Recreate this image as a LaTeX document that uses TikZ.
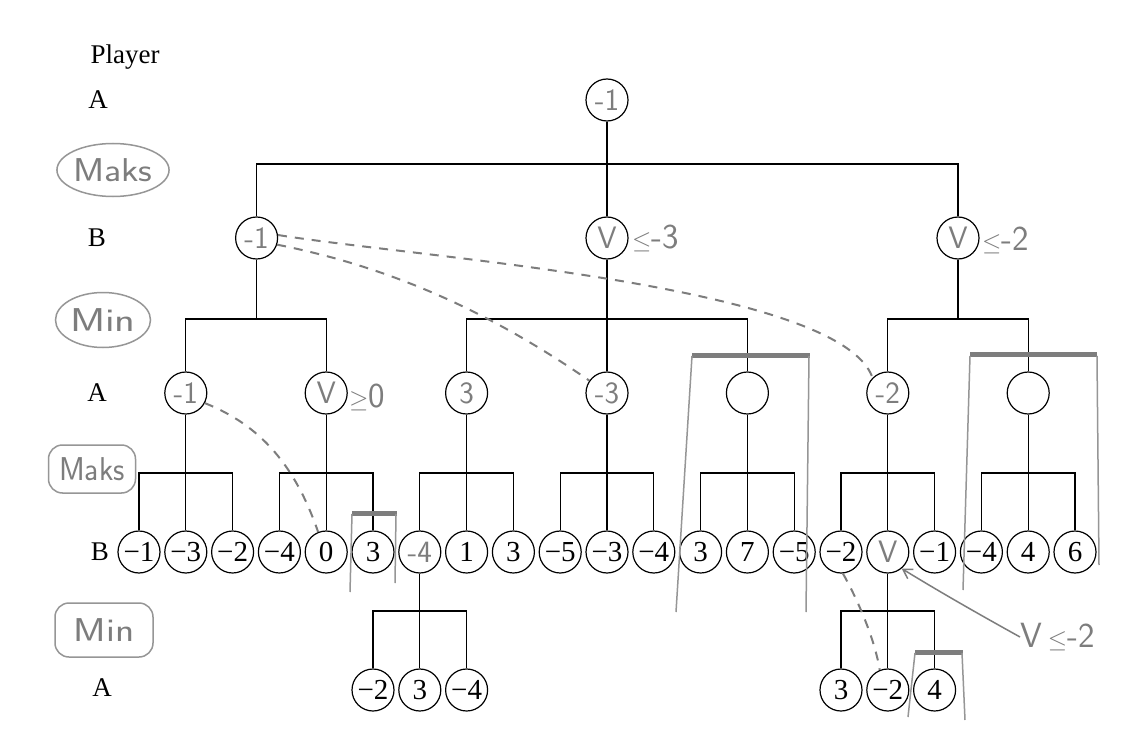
\documentclass[tikz,border=0pt]{standalone}
\usepackage{fontspec}
\setmainfont{Liberation Serif}
\usetikzlibrary{arrows.meta,calc,shapes.geometric}
\definecolor{pencil}{RGB}{125,125,125}
\definecolor{pencilsoft}{RGB}{150,150,150}
\newcommand\numfont{\fontsize{29}{29}\selectfont}
\newcommand\handfont{\sffamily\fontsize{31}{31}\selectfont}
\tikzset{
  state/.style={circle,draw=black,line width=1.2pt,minimum size=42pt,inner sep=0pt,font=\numfont,fill=white},
  handval/.style={text=pencil,font=\handfont},
  edge/.style={draw=black,line width=1.2pt},
  rowlabel/.style={font=\fontsize{27}{27}\selectfont,inner sep=0pt},
  handnote/.style={text=pencil,font=\sffamily\fontsize{35}{35}\selectfont,inner sep=0pt,anchor=west},
  trail/.style={draw=pencil,line width=2pt,dash pattern=on 9pt off 8pt},
  cutbar/.style={draw=pencil,line width=5pt},
  cutside/.style={draw=pencilsoft,line width=1.5pt},
  tag/.style={draw=pencilsoft,line width=1.5pt,text=pencil,inner sep=0pt,font=\sffamily\fontsize{33}{33}\selectfont},
}
\begin{document}
\begin{tikzpicture}[x=1pt,y=-1pt]
\fill[white] (0,0) rectangle (1125,749);
\useasboundingbox (0,0) rectangle (1125,749);

% player column
\node[rowlabel] (plr) at (125,57) {Player};
\node[rowlabel] (pa1) at (98,100) {A};
\node[tag,ellipse,minimum width=107pt,minimum height=53pt] (mx1) at (113,170) {\scalebox{1.15}[1]{Maks}};
\node[rowlabel] (pb1) at (97,238) {B};
\node[tag,ellipse,minimum width=95pt,minimum height=55pt] (mn1) at (103,320) {\scalebox{1.3}[1]{Min}};
\node[rowlabel] (pa2) at (97,393) {A};
\node[tag,rectangle,rounded corners=14pt,minimum width=87pt,minimum height=48pt] (mx2) at (92,469) {\scalebox{0.95}[1]{Maks}};
\node[rowlabel] (pb2) at (100,552) {B};
\node[tag,rectangle,rounded corners=14pt,minimum width=98pt,minimum height=54pt] (mn2) at (104,630) {\scalebox{1.2}[1]{Min}};
\node[rowlabel] (pa3) at (102,688) {A};

% root and first reply level
\node[state,handval] (root) at (607,100) {-1};
\node[state,handval] (bl) at (256.6,238) {-1};
\node[state,handval] (bm) at (607,238) {V};
\node[state,handval] (br) at (958,238) {V};

% second level
\node[state,handval] (a1) at (185.8,393) {-1};
\node[state,handval] (a2) at (326.2,393) {V};
\node[state,handval] (a3) at (466.6,393) {3};
\node[state,handval] (a4) at (607,393) {-3};
\node[state] (a5) at (747.4,393) {};
\node[state,handval] (a6) at (887.8,393) {-2};
\node[state] (a7) at (1028.2,393) {};

% third level
\node[state] (l0) at (139,552) {−1};
\node[state] (l1) at (185.8,552) {−3};
\node[state] (l2) at (232.6,552) {−2};
\node[state] (l3) at (279.4,552) {−4};
\node[state] (l4) at (326.2,552) {0};
\node[state] (l5) at (373,552) {3};
\node[state,handval] (l6) at (419.8,552) {-4};
\node[state] (l7) at (466.6,552) {1};
\node[state] (l8) at (513.4,552) {3};
\node[state] (l9) at (560.2,552) {−5};
\node[state] (l10) at (607,552) {−3};
\node[state] (l11) at (653.8,552) {−4};
\node[state] (l12) at (700.6,552) {3};
\node[state] (l13) at (747.4,552) {7};
\node[state] (l14) at (794.2,552) {−5};
\node[state] (l15) at (841,552) {−2};
\node[state,handval] (l16) at (887.8,552) {V};
\node[state] (l17) at (934.6,552) {−1};
\node[state] (l18) at (981.4,552) {−4};
\node[state] (l19) at (1028.2,552) {4};
\node[state] (l20) at (1075,552) {6};

% fourth level
\node[state] (m0) at (373,690) {−2};
\node[state] (m1) at (419.8,690) {3};
\node[state] (m2) at (466.6,690) {−4};
\node[state] (m3) at (841,690) {3};
\node[state] (m4) at (887.8,690) {−2};
\node[state] (m5) at (934.6,690) {4};

% tree edges
\draw[edge] (root) -- (bm);
\draw[edge] (bl) |- ($(root)+(0,64)$) -| (br);
\draw[edge] (bl) -- ($(bl)+(0,81)$);
\draw[edge] (a1) |- ($(bl)+(0,81)$) -| (a2);
\draw[edge] (bm) -- (a4);
\draw[edge] (a3) |- ($(bm)+(0,81)$) -| (a5);
\draw[edge] (br) -- ($(br)+(0,81)$);
\draw[edge] (a6) |- ($(br)+(0,81)$) -| (a7);
\foreach \k/\l/\m/\r in {1/0/1/2,2/3/4/5,3/6/7/8,4/9/10/11,5/12/13/14,6/15/16/17,7/18/19/20}{
  \draw[edge] (a\k) -- (l\m);
  \draw[edge] (l\l) |- ($(a\k)+(0,80)$) -| (l\r);
}
\draw[edge] (l6) -- (m1);
\draw[edge] (m0) |- ($(l6)+(0,59)$) -| (m2);
\draw[edge] (l16) -- (m4);
\draw[edge] (m3) |- ($(l16)+(0,59)$) -| (m5);

% bounds written beside nodes
\node[handnote] (n1) at (632,238) {$\leq$-3};
\node[handnote] (n2) at (982,240) {$\leq$-2};
\node[handnote] (n3) at (349,397) {$\geq$0};
\node[handnote] (n4) at (1020,637) {V\,$\leq$-2};

% principal variations
\draw[trail] (bl.8) .. controls (420,258) and (840,285) .. (a6.135);
\draw[trail] (bl.-18) .. controls (380,265) and (480,305) .. (a4.145);
\draw[trail] (a1.-28) .. controls (260,425) and (295,465) .. (l4.112);
\draw[trail] (l15.-85) .. controls (858,600) and (875,640) .. (m4.112);

% arrow to the bounded node
\draw[draw=pencil,line width=1.5pt,-{Straight Barb[length=9pt,width=11pt]}] (n4.west) .. controls (975,612) and (940,592) .. (l16.-50);

% cut-off subtrees
\draw[cutbar] (352,513) -- (397,513);
\draw[cutside] (352,514) -- (350,592);
\draw[cutside] (396,514) -- (395,583);
\draw[cutbar] (692,355) -- (810,355);
\draw[cutside] (692,356) -- (676,612);
\draw[cutside] (809,356) -- (806,612);
\draw[cutbar] (970,354) -- (1097,354);
\draw[cutside] (970,356) -- (963,590);
\draw[cutside] (1097,356) -- (1099,565);
\draw[cutbar] (915,652) -- (963,652);
\draw[cutside] (915,653) -- (908,717);
\draw[cutside] (962,653) -- (965,720);
\end{tikzpicture}
\end{document}
